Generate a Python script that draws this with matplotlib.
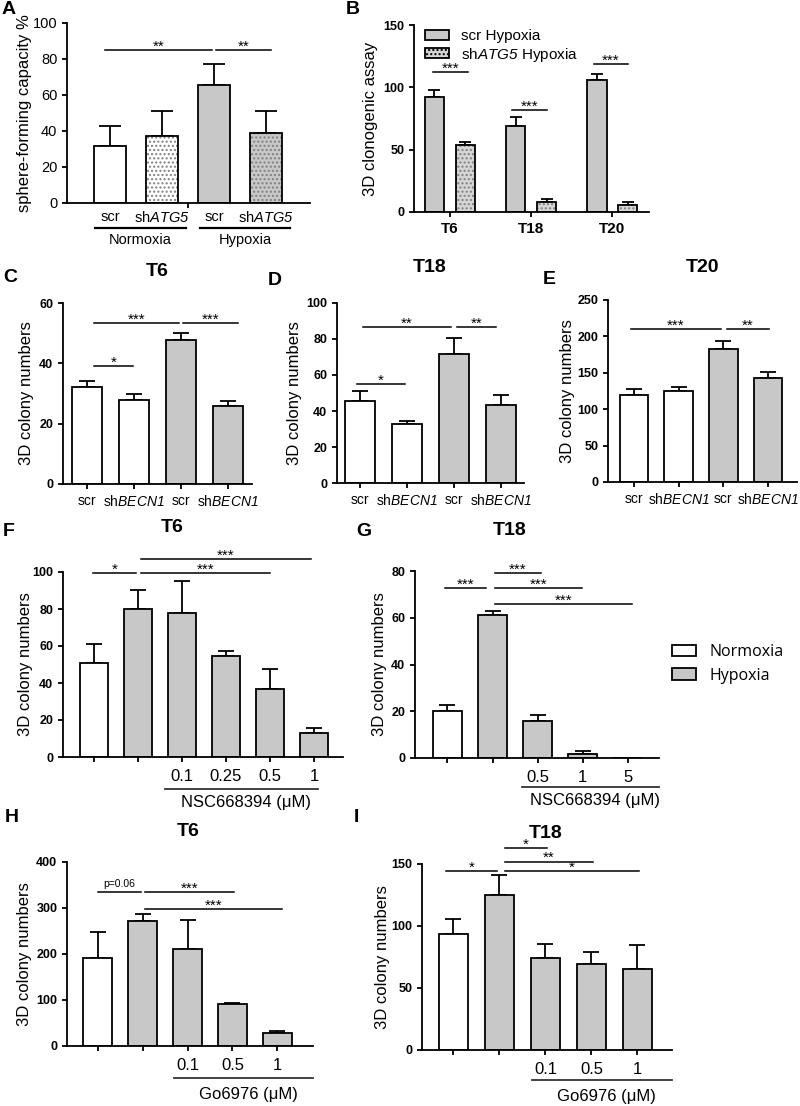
import matplotlib
matplotlib.use("Agg")
import matplotlib.pyplot as plt
from matplotlib.patches import Patch
from matplotlib.transforms import blended_transform_factory

plt.rcParams['font.family'] = ['Liberation Sans', 'DejaVu Sans']
plt.rcParams['mathtext.fontset'] = 'custom'
plt.rcParams['mathtext.it'] = 'Liberation Sans:italic'
plt.rcParams['mathtext.rm'] = 'Liberation Sans:italic'
plt.rcParams['hatch.linewidth'] = 1.0

# ---------------- data ----------------
A_cats = ['scr', r'sh$\mathit{ATG5}$', 'scr', r'sh$\mathit{ATG5}$']
A_groups = ['Normoxia', 'Hypoxia']
A_mean = [31.5, 37.5, 65.5, 39]
A_err = [11.5, 13.5, 12, 12]

B_groups = ['T6', 'T18', 'T20']
B_series = ['scr Hypoxia', r'sh$\mathit{ATG5}$ Hypoxia']
B_scr = [92, 69, 106]
B_scr_err = [5.5, 7.5, 5]
B_sh = [54, 8, 6]
B_sh_err = [2.5, 2.5, 2]

BECN_cats = ['scr', r'sh$\mathit{BECN1}$', 'scr', r'sh$\mathit{BECN1}$']
C_mean = [32, 28, 47.7, 26]
C_err = [2, 1.7, 2.3, 1.5]
D_mean = [45.5, 33, 71.5, 43.5]
D_err = [5.5, 1.5, 9, 5.5]
E_mean = [119.5, 125, 182.5, 143]
E_err = [8, 6, 11, 8]

F_doses = ['', '', '0.1', '0.25', '0.5', '1']
F_mean = [51, 80, 78, 54.5, 37, 13]
F_err = [10, 10.5, 17, 3, 10.5, 2.7]

G_doses = ['', '', '0.5', '1', '5']
G_mean = [20, 61, 16, 1.5, 0]
G_err = [2.5, 2, 2.5, 1.5, 0]

H_doses = ['', '', '0.1', '0.5', '1']
H_mean = [192, 272, 211, 92, 28]
H_err = [56, 16, 63, 2, 5]

I_doses = ['', '', '0.1', '0.5', '1']
I_mean = [93.5, 125, 74, 69, 65]
I_err = [12, 16, 11.5, 10, 20]

legend_labels = ['Normoxia', 'Hypoxia']

# significance: (x_start, x_end, height, label)
A_sig = [(-0.1, 1.96, 85, '**'), (2.04, 3.1, 85, '**')]
B_sig = [(-0.21, 0.22, 112, '***'), (0.77, 1.19, 82, '***'), (1.77, 2.19, 119, '***')]
C_sig = [(0.15, 1.96, 53.3, '***'), (2.04, 3.21, 53.3, '***'), (0.15, 0.98, 39, '*')]
D_sig = [(0.06, 1.94, 86.7, '**'), (2.07, 2.91, 86.7, '**'), (-0.06, 0.96, 55, '*')]
E_sig = [(-0.07, 1.95, 210, '***'), (2.08, 3.02, 210, '**')]
F_sig = [(-0.02, 0.95, 99.5, '*'), (1.07, 4.0, 99.5, '***'), (1.07, 4.93, 107, '***')]
G_sig = [(-0.06, 0.85, 72.6, '***'), (1.05, 2.07, 79, '***'), (1.05, 2.98, 72.6, '***'),
         (1.05, 4.09, 66, '***')]
H_sig = [(0.0, 0.97, 335, 'p=0.06'), (1.05, 3.03, 335, '***'), (1.05, 4.1, 298, '***')]
I_sig = [(-0.16, 0.95, 144, '*'), (1.12, 2.03, 163, '*'), (1.12, 3.03, 152, '**'),
         (1.12, 4.04, 144, '*')]

WHITE = 'white'
GRAY = '#c8c8c8'
LW = 1.3

W, H = 800, 1106
fig = plt.figure(figsize=(W / 100, H / 100), dpi=100)


def make_ax(x0, x1, ytop, ybot):
    ax = fig.add_axes([x0 / W, 1 - ybot / H, (x1 - x0) / W, (ybot - ytop) / H])
    ax.spines['top'].set_visible(False)
    ax.spines['right'].set_visible(False)
    ax.spines['left'].set_linewidth(LW)
    ax.spines['bottom'].set_linewidth(LW)
    ax.tick_params(width=LW, length=3.5)
    return ax


def fy(ybot, ytop, ypx):
    return (ybot - ypx) / (ybot - ytop)


def draw_bars(ax, xs, means, errs, colors, width, hatches=None, capsize=5):
    for i, (x, m, e, c) in enumerate(zip(xs, means, errs, colors)):
        h = hatches[i] if hatches else None
        if h:
            ax.bar(x, m, width, color=c, edgecolor='#808080', hatch=h, linewidth=0, zorder=2)
        else:
            ax.bar(x, m, width, color=c, linewidth=0, zorder=2)
        ax.bar(x, m, width, fill=False, edgecolor='black', linewidth=LW, zorder=3)
        if e > 0:
            ax.errorbar(x, m, yerr=[[0], [e]], fmt='none', ecolor='black',
                        elinewidth=LW, capsize=capsize, capthick=LW, zorder=1)


def draw_sig(ax, sigs, fs=11):
    for x1, x2, y, lab in sigs:
        ax.plot([x1, x2], [y, y], color='black', lw=1.1, clip_on=False, zorder=4)
        if lab.startswith('p'):
            ax.annotate(lab, ((x1 + x2) / 2, y), xytext=(0, 2), textcoords='offset points',
                        ha='center', va='bottom', fontsize=7.5, annotation_clip=False)
        else:
            ax.annotate(lab, ((x1 + x2) / 2, y), xytext=(0, -0.5), textcoords='offset points',
                        ha='center', va='baseline', fontsize=fs, annotation_clip=False)


def yaxis(ax, ylim, yticks, bold=True, fs=9):
    ax.set_ylim(*ylim)
    ax.set_yticks(yticks)
    ax.set_yticklabels([str(t) for t in yticks], fontsize=fs,
                       fontweight='bold' if bold else 'normal')


def panel_letter(x, y, s):
    fig.text(x / W, 1 - y / H, s, fontsize=14, fontweight='bold', ha='left', va='center')


def title(x, y, s):
    fig.text(x / W, 1 - y / H, s, fontsize=14, fontweight='bold', ha='center', va='center')


# ---------------- Panel A ----------------
ax = make_ax(67, 310, 23, 203)
xs = list(range(len(A_mean)))
draw_bars(ax, xs, A_mean, A_err, [WHITE, WHITE, GRAY, GRAY], 0.63,
          hatches=[None, '....', None, '....'], capsize=8)
ax.set_xlim(-0.83, 3.85)
yaxis(ax, (0, 100), [0, 20, 40, 60, 80, 100], bold=False, fs=10.5)
ax.set_xticks([1.5])
ax.set_xticklabels([''])
tr = blended_transform_factory(ax.transData, ax.transAxes)
for x, c in zip(xs, A_cats):
    ax.text(x, fy(203, 23, 217), c, transform=tr, ha='center', va='center', fontsize=10.5)
for (a, b), g in zip([(-0.29, 1.46), (1.73, 3.46)], A_groups):
    ax.plot([a, b], [fy(203, 23, 228)] * 2, transform=tr, color='black', lw=1.6, clip_on=False)
    ax.text((a + b) / 2, fy(203, 23, 240), g, transform=tr, ha='center', va='center', fontsize=10.5)
ax.set_ylabel('sphere-forming capacity %', fontsize=12)
ax.yaxis.set_label_coords(-35 / 243, 0.5)
draw_sig(ax, A_sig)
panel_letter(2, 10, 'A')

# ---------------- Panel B ----------------
ax = make_ax(414, 649, 25, 212)
gx = list(range(len(B_groups)))
bw = 0.235
draw_bars(ax, [g - 0.19 for g in gx], B_scr, B_scr_err, [GRAY] * 3, bw, capsize=4.5)
draw_bars(ax, [g + 0.19 for g in gx], B_sh, B_sh_err, ['#d6d6d6'] * 3, bw,
          hatches=['....'] * 3, capsize=4.5)
ax.set_xlim(-0.44, 2.45)
yaxis(ax, (0, 150), [0, 50, 100, 150], bold=True, fs=9)
ax.set_xticks(gx)
ax.set_xticklabels(B_groups, fontsize=11, fontweight='bold')
ax.set_ylabel('3D clonogenic assay', fontsize=12)
ax.yaxis.set_label_coords(-36 / 235, 0.5)
draw_sig(ax, B_sig)
handles = [Patch(facecolor=GRAY, edgecolor='black', linewidth=LW),
           Patch(facecolor='#d6d6d6', edgecolor='black', linewidth=LW, hatch='....')]
ax.legend(handles, B_series, loc='upper left', bbox_to_anchor=(0.02, 1.01), frameon=False,
          fontsize=11, handlelength=1.6, handleheight=0.6, labelspacing=0.15, borderaxespad=0)
panel_letter(346, 10, 'B')

# ---------------- Panels C, D, E ----------------
for (x0, x1, yt, yb, xl, means, errs, ylim, yt_list, sigs, letter, lpos, tpos, ttl, ldx) in [
    (63, 252, 303, 484, (-0.51, 3.51), C_mean, C_err, (0, 60), [0, 20, 40, 60], C_sig, 'C', (3, 278), (157, 272), 'T6', 29),
    (337, 524, 303, 483, (-0.49, 3.5), D_mean, D_err, (0, 100), [0, 20, 40, 60, 80, 100], D_sig, 'D', (268, 281), (430, 268), 'T18', 35),
    (608, 797, 300, 482, (-0.58, 3.65), E_mean, E_err, (0, 250), [0, 50, 100, 150, 200, 250], E_sig, 'E', (543, 280), (702, 267), 'T20', 33),
]:
    ax = make_ax(x0, x1, yt, yb)
    xs = list(range(4))
    draw_bars(ax, xs, means, errs, [WHITE, WHITE, GRAY, GRAY], 0.64, capsize=6)
    ax.set_xlim(*xl)
    yaxis(ax, ylim, yt_list)
    ax.set_xticks(xs)
    ax.set_xticklabels(BECN_cats, fontsize=10)
    ax.tick_params(axis='x', pad=4)
    ax.set_ylabel('3D colony numbers', fontsize=12)
    ax.yaxis.set_label_coords(-ldx / (x1 - x0), 0.5)
    draw_sig(ax, sigs)
    panel_letter(lpos[0], lpos[1], letter)
    title(tpos[0], tpos[1], ttl)

# ---------------- Panels F, G, H, I ----------------
cfgs = [
    dict(box=(63, 343, 572, 757), xl=(-0.70, 5.66), m=F_mean, e=F_err, labs=F_doses,
         ylim=(0, 100), yt=[0, 20, 40, 60, 80, 100], sig=F_sig, letter='F', lpos=(3, 532),
         tpos=(172, 528), ttl='T6', grp=(1.61, 5.09), gy=(789, 803), drug='NSC668394 (μM)', lab_dx=-30),
    dict(box=(415, 659, 571, 758), xl=(-0.72, 4.69), m=G_mean, e=G_err, labs=G_doses,
         ylim=(0, 80), yt=[0, 20, 40, 60, 80], sig=G_sig, letter='G', lpos=(356, 531),
         tpos=(510, 530), ttl='T18', grp=(1.65, 4.69), gy=(787, 800), drug='NSC668394 (μM)', lab_dx=-28),
    dict(box=(67, 313, 862, 1046), xl=(-0.68, 4.79), m=H_mean, e=H_err, labs=H_doses,
         ylim=(0, 400), yt=[0, 100, 200, 300, 400], sig=H_sig, letter='H', lpos=(5, 818),
         tpos=(188, 832), ttl='T6', grp=(1.7, 4.79), gy=(1078, 1094), drug='Go6976 (μM)', lab_dx=-35),
    dict(box=(422, 672, 864, 1050), xl=(-0.68, 4.75), m=I_mean, e=I_err, labs=I_doses,
         ylim=(0, 150), yt=[0, 50, 100, 150], sig=I_sig, letter='I', lpos=(354, 818),
         tpos=(546, 833), ttl='T18', grp=(1.7, 4.75), gy=(1080, 1096), drug='Go6976 (μM)', lab_dx=-32),
]
for c in cfgs:
    x0, x1, yt, yb = c['box']
    ax = make_ax(x0, x1, yt, yb)
    n = len(c['m'])
    xs = list(range(n))
    colors = [WHITE] + [GRAY] * (n - 1)
    draw_bars(ax, xs, c['m'], c['e'], colors, 0.64, capsize=6)
    ax.set_xlim(*c['xl'])
    yaxis(ax, c['ylim'], c['yt'])
    ax.set_xticks(xs)
    ax.set_xticklabels(c['labs'], fontsize=12)
    ax.tick_params(axis='x', pad=5)
    ax.set_ylabel('3D colony numbers', fontsize=12)
    ax.yaxis.set_label_coords(c['lab_dx'] / (x1 - x0), 0.5)
    draw_sig(ax, c['sig'])
    tr = blended_transform_factory(ax.transData, ax.transAxes)
    a, b = c['grp']
    ax.plot([a, b], [fy(yb, yt, c['gy'][0])] * 2, transform=tr, color='#333333', lw=1.3, clip_on=False)
    ax.text((a + b) / 2 + 0.1, fy(yb, yt, c['gy'][1]), c['drug'], transform=tr,
            ha='center', va='center', fontsize=12)
    panel_letter(c['lpos'][0], c['lpos'][1], c['letter'])
    title(c['tpos'][0], c['tpos'][1], c['ttl'])

# shared legend Normoxia / Hypoxia
leg_handles = [Patch(facecolor=WHITE, edgecolor='black', linewidth=LW),
               Patch(facecolor=GRAY, edgecolor='black', linewidth=LW)]
fig.legend(leg_handles, legend_labels, loc='upper left', bbox_to_anchor=(658 / W, 1 - 630 / H),
           frameon=False, handlelength=1.5, handleheight=0.7, labelspacing=0.45,
           prop={'family': 'Open Sans', 'size': 11.5})

fig.savefig('out.png', dpi=100)
